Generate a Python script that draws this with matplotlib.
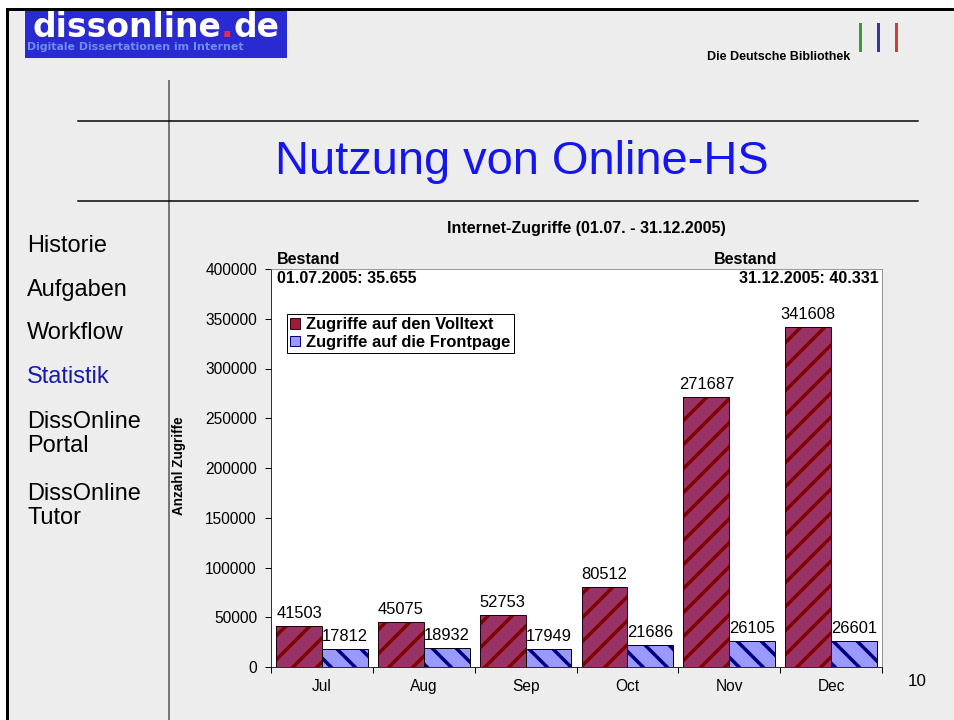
import matplotlib.pyplot as plt
from matplotlib.lines import Line2D
from matplotlib.patches import Rectangle, Patch

plt.rcParams['font.family'] = ['Liberation Sans', 'DejaVu Sans']
plt.rcParams['hatch.linewidth'] = 3.5

# chart data
months = ['Jul', 'Aug', 'Sep', 'Oct', 'Nov', 'Dec']
volltext = [41503, 45075, 52753, 80512, 271687, 341608]
frontpage = [17812, 18932, 17949, 21686, 26105, 26601]
menu_items = ['Historie', 'Aufgaben', 'Workflow', 'Statistik', 'DissOnline\nPortal', 'DissOnline\nTutor']

W, H = 954, 720
fig = plt.figure(figsize=(W / 72, H / 72), dpi=72, facecolor='white')


def fx(x):
    return x / W


def fy(y):
    return 1 - y / H


def fline(x0, y0, x1, y1, **kw):
    fig.add_artist(Line2D([fx(x0), fx(x1)], [fy(y0), fy(y1)], transform=fig.transFigure, **kw))


# slide background + frame
fig.add_artist(Rectangle((fx(8), 0), 1, fy(10), transform=fig.transFigure,
                         facecolor='#ededed', edgecolor='none', zorder=-10))
fline(7, 9, 954, 9, color='black', lw=3)
fline(7, 9, 7, 720, color='black', lw=3)

# logo
fig.add_artist(Rectangle((fx(25), fy(58)), fx(287) - fx(25), fy(10) - fy(58),
                         transform=fig.transFigure, facecolor='#2a2ad2', edgecolor='none'))
renderer = fig.canvas.get_renderer()
x_cur = fx(32)
for part, col in [('dissonline', 'white'), ('.', '#e0304a'), ('de', 'white')]:
    t = fig.text(x_cur, fy(37), part, color=col, fontsize=33, fontweight='bold',
                 family='DejaVu Sans', va='baseline')
    x_cur += t.get_window_extent(renderer).width / W
fig.text(fx(27), fy(47.5), 'Digitale Dissertationen im Internet', color='#6f8ff0',
         fontsize=11, fontweight='bold', family='DejaVu Sans', va='center')

fig.text(fx(850), fy(57), 'Die Deutsche Bibliothek', fontsize=12.5, fontweight='bold',
         ha='right', va='center')
for x, c in zip([860, 878, 896], ['#3a9a3a', '#3535a8', '#d33a3a']):
    fline(x, 24, x, 50, color=c, lw=3)

# layout lines
fline(169, 81, 169, 720, color='#777777', lw=2)
fline(78, 121, 918, 121, color='black', lw=1.5)
fline(78, 201, 918, 201, color='black', lw=1.5)

fig.text(fx(522), fy(162), 'Nutzung von Online-HS', color='#1515f0', fontsize=47,
         ha='center', va='center')

menu_y = [246, 290, 333, 377, 434, 506]
for label, y in zip(menu_items, menu_y):
    fig.text(fx(27), fy(y), label, fontsize=23.5, va='center', linespacing=1.15,
             color='#1a1aa8' if label == 'Statistik' else 'black')

fig.text(fx(917), fy(681), '10', fontsize=17, ha='center', va='center')

# chart
ax = fig.add_axes([fx(271), fy(667), fx(882) - fx(271), fy(269) - fy(667)])
ax.set_facecolor('white')
x = list(range(len(months)))
bw = 0.45
xr = [i - bw / 2 for i in x]
xb = [i + bw / 2 for i in x]

ax.bar(xr, volltext, bw, color='#993366', edgecolor='#800000', hatch='/', linewidth=0)
ax.bar(xr, volltext, bw, fill=False, edgecolor='#200010', linewidth=1)
ax.bar(xb, frontpage, bw, color='#9999ff', edgecolor='#000080', hatch='\\', linewidth=0)
ax.bar(xb, frontpage, bw, fill=False, edgecolor='black', linewidth=1)

for xi, v in zip(xr, volltext):
    ax.annotate(str(v), (xi, v), xytext=(0, 5), textcoords='offset points',
                ha='center', va='bottom', fontsize=16.5)
for xi, v in zip(xb, frontpage):
    ax.annotate(str(v), (xi, v), xytext=(0, 5), textcoords='offset points',
                ha='center', va='bottom', fontsize=16.5)

ax.set_xlim(-0.5, 5.5)
ax.set_ylim(0, 400000)
ax.set_yticks(range(0, 400001, 50000))
ax.ticklabel_format(axis='y', style='plain')
ax.tick_params(axis='y', labelsize=15.5, length=6, width=1, pad=8)
ax.set_xticks(x)
ax.set_xticklabels(months)
ax.set_xticks([i - 0.5 for i in range(7)], minor=True)
ax.tick_params(axis='x', which='major', length=0, labelsize=15.5, pad=12)
ax.tick_params(axis='x', which='minor', length=6, width=1)
for s in ['top', 'right']:
    ax.spines[s].set_color('#808080')
for s in ['left', 'bottom']:
    ax.spines[s].set_color('black')

handles = [Patch(facecolor='#9b1b3b', edgecolor='#400010', label='Zugriffe auf den Volltext'),
           Patch(facecolor='#9999ff', edgecolor='#000080', label='Zugriffe auf die Frontpage')]
ax.legend(handles=handles, loc='upper left', bbox_to_anchor=(0.026, 0.887), borderaxespad=0,
          fancybox=False, edgecolor='black', framealpha=1, handlelength=0.6, handleheight=0.6,
          handletextpad=0.35, labelspacing=0.15, borderpad=0.2,
          prop={'weight': 'bold', 'size': 16.5})

ax.text(0.01, 0.995, '01.07.2005: 35.655', transform=ax.transAxes, fontsize=16,
        fontweight='bold', va='top')
ax.text(0.995, 0.995, '31.12.2005: 40.331', transform=ax.transAxes, fontsize=16,
        fontweight='bold', va='top', ha='right')
fig.text(fx(277), fy(259), 'Bestand', fontsize=16, fontweight='bold', va='center')
fig.text(fx(714), fy(259), 'Bestand', fontsize=16, fontweight='bold', va='center')
fig.text(fx(586), fy(229), 'Internet-Zugriffe (01.07. - 31.12.2005)', fontsize=16,
         fontweight='bold', ha='center', va='center')
fig.text(fx(179), fy(466), 'Anzahl Zugriffe', fontsize=13.5, fontweight='bold', rotation=90,
         ha='center', va='center')

fig.savefig('out.png', dpi=72, facecolor='white')
